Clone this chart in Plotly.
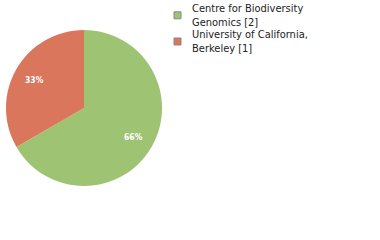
import math
import plotly.graph_objects as go

labels = ["Centre for Biodiversity<br>Genomics [2]", "University of California,<br>Berkeley [1]"]
values = [2, 1]
pct_text = ["66%", "33%"]
colors = ["#9dc373", "#d9765c"]

W, H = 380, 240
cx, cy, R = 84, 108, 78

fig = go.Figure(go.Pie(
    labels=labels, values=values, textinfo="none",
    marker=dict(colors=colors, line=dict(width=0)),
    sort=False, direction="clockwise", rotation=0,
    domain=dict(x=[(cx - R) / W, (cx + R) / W], y=[1 - (cy + R) / H, 1 - (cy - R) / H]),
    hoverinfo="none", showlegend=False,
))

# percentage labels at slice mid-angles
total = sum(values)
acc = 0
rl = 57
for v, t in zip(values, pct_text):
    mid = (acc + v / 2) / total * 2 * math.pi
    acc += v
    px = cx + rl * math.sin(mid)
    py = cy - rl * math.cos(mid)
    fig.add_annotation(x=px / W, y=1 - py / H, xref="paper", yref="paper",
                       xanchor="center", yanchor="middle",
                       text="<b>" + t + "</b>", showarrow=False,
                       font=dict(family="DejaVu Sans Condensed", size=8.5, color="white"))

# legend
for i, (lab, col) in enumerate(zip(labels, colors)):
    sq = 15.3 + 26.2 * i
    fig.add_shape(type="rect", xref="paper", yref="paper",
                  x0=174 / W, x1=181 / W, y0=1 - (sq + 3.5) / H, y1=1 - (sq - 3.5) / H,
                  fillcolor=col, line=dict(color="#888888", width=1))
    fig.add_annotation(x=191 / W, y=1 - (15.6 + 26.3 * i) / H, xref="paper", yref="paper",
                       xanchor="left", yanchor="middle", align="left", text=lab,
                       showarrow=False, borderpad=0,
                       font=dict(family="DejaVu Sans Condensed", size=11, color="#222222"))

fig.update_layout(
    width=W, height=H, margin=dict(l=0, r=0, t=0, b=0),
    paper_bgcolor="white", plot_bgcolor="white",
)
fig.write_html("out.html")
